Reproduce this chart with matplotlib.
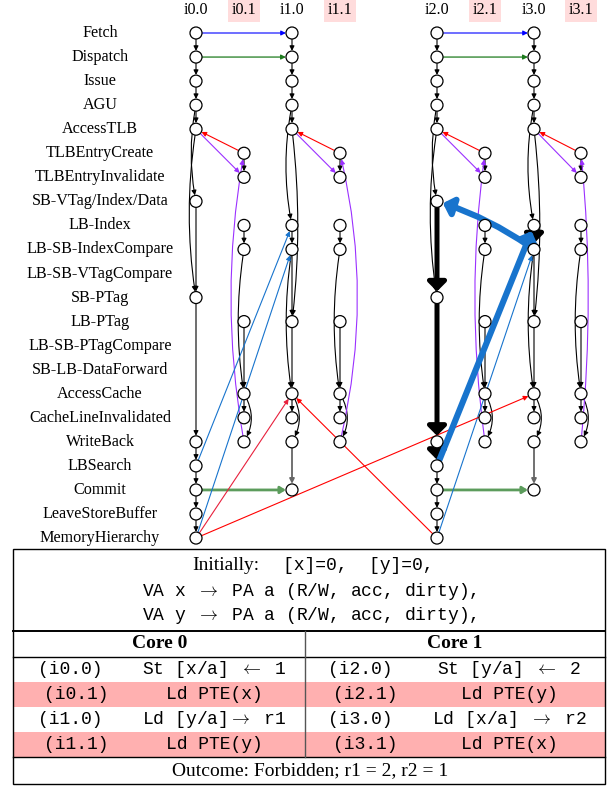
import matplotlib
matplotlib.use("Agg")
import matplotlib.pyplot as plt
from matplotlib.patches import Circle, FancyArrowPatch, Rectangle

# ---------------- data ----------------
stages = ["Fetch", "Dispatch", "Issue", "AGU", "AccessTLB", "TLBEntryCreate",
          "TLBEntryInvalidate", "SB-VTag/Index/Data", "LB-Index", "LB-SB-IndexCompare",
          "LB-SB-VTagCompare", "SB-PTag", "LB-PTag", "LB-SB-PTagCompare",
          "SB-LB-DataForward", "AccessCache", "CacheLineInvalidated", "WriteBack",
          "LBSearch", "Commit", "LeaveStoreBuffer", "MemoryHierarchy"]

instrs = ["i0.0", "i0.1", "i1.0", "i1.1", "i2.0", "i2.1", "i3.0", "i3.1"]
instr_kind = ["store", "pte", "load", "pte", "store", "pte", "load", "pte"]
pte_parent = {"i0.1": "i0.0", "i1.1": "i1.0", "i2.1": "i2.0", "i3.1": "i3.0"}

store_nodes = ["Fetch", "Dispatch", "Issue", "AGU", "AccessTLB", "SB-VTag/Index/Data",
               "SB-PTag", "WriteBack", "LBSearch", "Commit", "LeaveStoreBuffer",
               "MemoryHierarchy"]
load_nodes = ["Fetch", "Dispatch", "Issue", "AGU", "AccessTLB", "LB-Index",
              "LB-SB-IndexCompare", "LB-PTag", "AccessCache", "CacheLineInvalidated",
              "WriteBack", "Commit"]
pte_nodes = ["TLBEntryCreate", "TLBEntryInvalidate", "LB-Index", "LB-SB-IndexCompare",
             "LB-PTag", "AccessCache", "CacheLineInvalidated", "WriteBack"]

# (src, dst, curvature)
store_edges = [("Fetch", "Dispatch", 0), ("Dispatch", "Issue", 0), ("Issue", "AGU", 0),
               ("AGU", "AccessTLB", 0), ("AGU", "SB-VTag/Index/Data", 0.1),
               ("AccessTLB", "SB-PTag", 0.08), ("SB-VTag/Index/Data", "SB-PTag", 0),
               ("SB-PTag", "WriteBack", 0), ("WriteBack", "LBSearch", 0),
               ("LBSearch", "Commit", 0), ("Commit", "LeaveStoreBuffer", 0),
               ("LeaveStoreBuffer", "MemoryHierarchy", 0)]
load_edges = [("Fetch", "Dispatch", 0), ("Dispatch", "Issue", 0), ("Issue", "AGU", 0),
              ("AGU", "AccessTLB", 0), ("AGU", "LB-Index", 0.1),
              ("AccessTLB", "LB-PTag", -0.06), ("LB-Index", "LB-SB-IndexCompare", 0),
              ("LB-SB-IndexCompare", "LB-PTag", 0), ("LB-SB-IndexCompare", "AccessCache", 0.08),
              ("LB-PTag", "AccessCache", 0), ("AccessCache", "CacheLineInvalidated", 0),
              ("AccessCache", "WriteBack", -0.3)]
load_grey_edges = [("WriteBack", "Commit", 0)]
pte_edges = [("TLBEntryCreate", "TLBEntryInvalidate", 0), ("LB-Index", "LB-SB-IndexCompare", 0),
             ("LB-SB-IndexCompare", "AccessCache", 0.08), ("LB-PTag", "AccessCache", 0),
             ("AccessCache", "CacheLineInvalidated", 0), ("AccessCache", "WriteBack", -0.3)]
pte_purple_rad = {"i0.1": -0.09, "i1.1": 0.12, "i2.1": -0.07, "i3.1": 0.05}

# cross edges: (src instr, src stage, dst instr, dst stage, style, curvature)
cross_edges = [
    ("i0.0", "Fetch", "i1.0", "Fetch", "fetch", 0),
    ("i2.0", "Fetch", "i3.0", "Fetch", "fetch", 0),
    ("i0.0", "Dispatch", "i1.0", "Dispatch", "dispatch", 0),
    ("i2.0", "Dispatch", "i3.0", "Dispatch", "dispatch", 0),
    ("i0.0", "Commit", "i1.0", "Commit", "commit", 0),
    ("i2.0", "Commit", "i3.0", "Commit", "commit", 0),
    ("i0.0", "LBSearch", "i1.0", "LB-Index", "fr", 0),
    ("i0.0", "MemoryHierarchy", "i1.0", "LB-SB-IndexCompare", "fr", 0),
    ("i2.0", "MemoryHierarchy", "i3.0", "LB-SB-IndexCompare", "fr", 0),
    ("i0.0", "MemoryHierarchy", "i1.0", "AccessCache", "crimson", 0),
    ("i0.0", "MemoryHierarchy", "i3.0", "AccessCache", "red", 0),
    ("i2.0", "MemoryHierarchy", "i1.0", "AccessCache", "red", 0),
    ("i2.0", "SB-VTag/Index/Data", "i2.0", "SB-PTag", "cycle_black", 0),
    ("i2.0", "SB-PTag", "i2.0", "WriteBack", "cycle_black", 0),
    ("i2.0", "WriteBack", "i2.0", "LBSearch", "cycle_black", 0),
    ("i3.0", "LB-Index", "i3.0", "LB-SB-IndexCompare", "cycle_black", 0),
    ("i2.0", "LBSearch", "i3.0", "LB-Index", "cycle_blue", 0),
    ("i3.0", "LB-SB-IndexCompare", "i2.0", "SB-VTag/Index/Data", "cycle_blue", 0.08),
]

init_vars = "[x]=0,  [y]=0,"
table_init = [r"VA x $\rightarrow$ PA a (R/W, acc, dirty),",
              r"VA y $\rightarrow$ PA a (R/W, acc, dirty),"]
core_titles = ["Core 0", "Core 1"]
core0_rows = [("(i0.0)", r"St [x/a] $\leftarrow$ 1"), ("(i0.1)", "Ld PTE(x)"),
              ("(i1.0)", r"Ld [y/a]$\rightarrow$ r1"), ("(i1.1)", "Ld PTE(y)")]
core1_rows = [("(i2.0)", r"St [y/a] $\leftarrow$ 2"), ("(i2.1)", "Ld PTE(y)"),
              ("(i3.0)", r"Ld [x/a] $\rightarrow$ r2"), ("(i3.1)", "Ld PTE(x)")]
outcome = "Outcome: Forbidden; r1 = 2, r2 = 1"

# ---------------- layout / style ----------------
col_x = [196, 244, 292, 340, 437, 485, 534, 581]
row_y0, row_dy = 33, 24.05
node_r = 6
styles = {
    "fetch": dict(color="#0000ff", lw=0.8, ms=7, hw=0.2, hl=0.4),
    "dispatch": dict(color="#1e7b1e", lw=0.9, ms=7, hw=0.2, hl=0.4),
    "commit": dict(color="#5c9c5c", lw=2.0, ms=8, hw=0.25, hl=0.4),
    "fr": dict(color="#1874cd", lw=0.8, ms=7, hw=0.2, hl=0.4),
    "crimson": dict(color="#e8203c", lw=0.8, ms=7, hw=0.2, hl=0.4),
    "red": dict(color="#ff0000", lw=0.8, ms=7, hw=0.2, hl=0.4),
    "cycle_black": dict(color="black", lw=3.6, ms=13, hw=0.42, hl=0.42),
    "cycle_blue": dict(color="#1874cd", lw=4.4, ms=13, hw=0.42, hl=0.42),
}
SERIF = ["Liberation Serif", "DejaVu Serif"]
MONO = ["Liberation Mono", "DejaVu Sans Mono"]
plt.rcParams["mathtext.fontset"] = "cm"

fig = plt.figure(figsize=(6.11, 7.86), dpi=100)
ax = fig.add_axes([0, 0, 1, 1])
ax.set_xlim(0, 611)
ax.set_ylim(786, 0)
ax.axis("off")


def pos(instr, stage):
    return (col_x[instrs.index(instr)], row_y0 + stages.index(stage) * row_dy)


def arrow(p, q, color="black", lw=0.8, ms=7, rad=0, z=2, hw=0.2, hl=0.4):
    ax.add_patch(FancyArrowPatch(p, q, arrowstyle=f"-|>,head_length={hl},head_width={hw}",
                                 mutation_scale=ms, lw=lw, color=color,
                                 shrinkA=4.4, shrinkB=4.4,
                                 connectionstyle=f"arc3,rad={rad}", zorder=z))


# row labels
for i, s in enumerate(stages):
    ax.text(100, row_y0 + i * row_dy, s, ha="center", va="center", fontsize=11.6,
            family=SERIF)

# column headers
for i, name in enumerate(instrs):
    kw = {}
    if instr_kind[i] == "pte":
        kw["bbox"] = dict(boxstyle="square,pad=0.25", fc="#ffdcdc", ec="none")
    ax.text(col_x[i], 9.5, name, ha="center", va="center", fontsize=11.6, family=SERIF, **kw)

# nodes and intra-instruction edges
for i, name in enumerate(instrs):
    kind = instr_kind[i]
    nodes = {"store": store_nodes, "load": load_nodes, "pte": pte_nodes}[kind]
    edges = {"store": store_edges, "load": load_edges, "pte": pte_edges}[kind]
    for s in nodes:
        ax.add_patch(Circle(pos(name, s), node_r, fc="white", ec="black", lw=0.9, zorder=4))
    for a, b, r in edges:
        arrow(pos(name, a), pos(name, b), rad=r)
    if kind == "load":
        for a, b, r in load_grey_edges:
            arrow(pos(name, a), pos(name, b), color="#666666", lw=1.3, rad=r)
    if kind == "pte":
        par = pte_parent[name]
        arrow(pos(name, "WriteBack"), pos(name, "TLBEntryCreate"), color="#9b30ff",
              rad=pte_purple_rad[name])
        arrow(pos(name, "TLBEntryCreate"), pos(par, "AccessTLB"), color="#ff0000")
        arrow(pos(par, "AccessTLB"), pos(name, "TLBEntryInvalidate"), color="#9b30ff")

for si, ss, di, ds, st, r in cross_edges:
    sty = styles[st]
    z = 3 if st.startswith("cycle") else 2
    arrow(pos(si, ss), pos(di, ds), color=sty["color"], lw=sty["lw"], ms=sty["ms"],
          rad=r, z=z, hw=sty["hw"], hl=sty["hl"])

# ---------------- table ----------------
L, R, T, B, MID = 13, 605, 549, 784, 305
y_core_top, y_core_bot, y_out = 631, 656.5, 757
rh = (y_out - y_core_bot) / 4
for k in (1, 3):
    ax.add_patch(Rectangle((L, y_core_bot + k * rh), R - L, rh, fc="#ffb0b0", ec="none", zorder=1))
ax.add_patch(Rectangle((L, T), R - L, B - T, fc="none", ec="black", lw=1.0, zorder=5))
ax.plot([L, R], [y_core_top, y_core_top], color="black", lw=1.4, zorder=5)
ax.plot([L, R], [y_core_bot, y_core_bot], color="black", lw=1.0, zorder=5)
ax.plot([L, R], [y_out, y_out], color="black", lw=1.0, zorder=5)
ax.plot([MID, MID], [y_core_top, y_out], color="#555555", lw=1.0, zorder=5)

ax.text(192, 565, "Initially:", ha="left", va="center", fontsize=14, family=SERIF)
ax.text(283, 565, init_vars, ha="left", va="center", fontsize=13, family=MONO)
for k, line in enumerate(table_init):
    ax.text(309, 591 + k * 25, line, ha="center", va="center", fontsize=13, family=MONO)
ax.text(160, 643, core_titles[0], ha="center", va="center", fontsize=14, family=SERIF,
        weight="bold")
ax.text(455, 643, core_titles[1], ha="center", va="center", fontsize=14, family=SERIF,
        weight="bold")
for k, (lab, txt) in enumerate(core0_rows):
    y = y_core_bot + (k + 0.5) * rh
    ax.text(70 + (6 if k % 2 else 0), y, lab, ha="center", va="center", fontsize=13, family=MONO)
    ax.text(214, y, txt, ha="center", va="center", fontsize=13, family=MONO)
for k, (lab, txt) in enumerate(core1_rows):
    y = y_core_bot + (k + 0.5) * rh
    ax.text(360 + (5 if k % 2 else 0), y, lab, ha="center", va="center", fontsize=13, family=MONO)
    ax.text(509, y, txt, ha="center", va="center", fontsize=13, family=MONO)
ax.text(310, 771, outcome, ha="center", va="center", fontsize=14, family=SERIF)

fig.savefig("out.png", dpi=100)
